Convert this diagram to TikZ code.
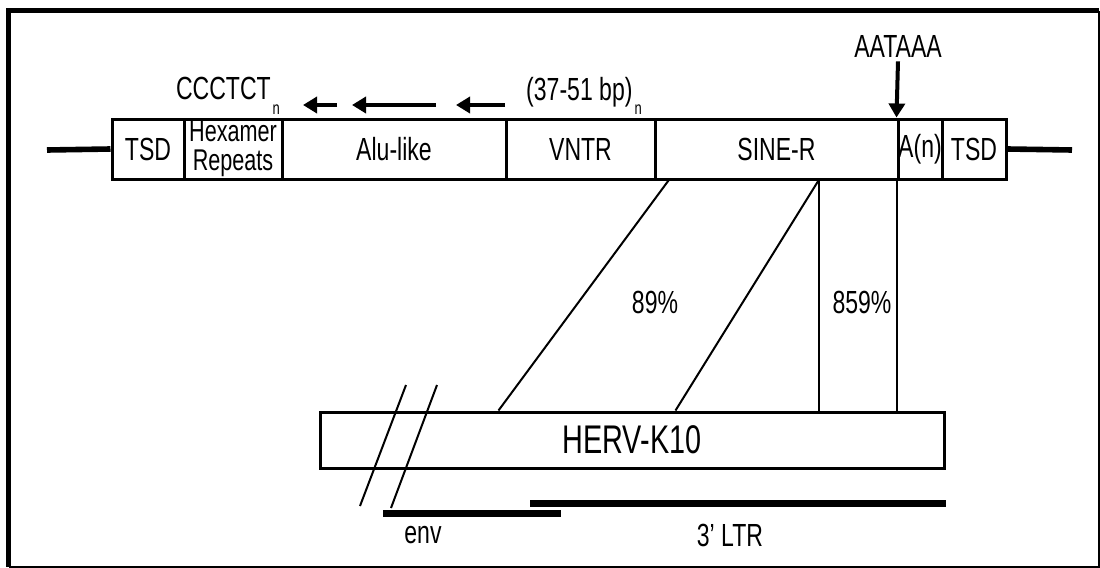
\documentclass[tikz,border=0pt]{standalone}
\usepackage{fontspec}
\setmainfont{Liberation Sans}[FakeStretch=0.72]
\usetikzlibrary{arrows.meta,positioning,calc}
\newcommand{\repsub}[1]{\kern1pt\raisebox{-0.45em}{\fontsize{9}{9}\selectfont #1}}

\begin{document}
\begin{tikzpicture}[x=0.5pt,y=-0.5pt,
    seg/.style={draw,line width=1.5pt,minimum height=30pt,inner sep=0pt,font=\fontsize{16}{16}\selectfont,align=center},
    lbl/.style={font=\fontsize{16}{16}\selectfont,inner sep=2pt},
    link/.style={line width=1pt},
    chrom/.style={line width=2.8pt},
    gbar/.style={line width=3.5pt},
    rpt/.style={line width=2pt,-{Triangle[length=7pt,width=8pt]}}]
  \useasboundingbox (0,0) rectangle (1100,568);
  % frame
  \draw[line width=2.5pt] (8.5,567) -- (8.5,10.5) -- (1099,10.5);
  \draw[line width=0.6pt] (8.5,567) -- (1099,567) -- (1099,10.5);
  % element
  \node[seg,minimum width=36pt] (tsdA) at (148,149) {TSD};
  \node[seg,minimum width=49pt,font=\fontsize{15}{14.5}\selectfont] (hex) at (233,149) {Hexamer\\Repeats};
  \node[seg,minimum width=112pt] (alu) at (394,149) {Alu-like};
  \node[seg,minimum width=74.5pt] (vntr) at (580.5,149) {VNTR};
  \node[seg,minimum width=121.5pt] (sine) at (776.5,149) {SINE-R};
  \node[seg,minimum width=22pt] (an) at (920,149) {A(n)};
  \node[seg,minimum width=32pt] (tsdB) at (974,149) {TSD};
  \coordinate (flankL) at (47,150);
  \coordinate (flankR) at (1072,150);
  \draw[chrom] (flankL) -- (tsdA.west);
  \draw[chrom] (tsdB.east) -- (flankR);
  % repeats
  \node[lbl] (ccc) at (228,96) {CCCTCT\repsub{n}};
  \node[lbl] (vnum) at (584,96) {(37-51 bp)\repsub{n}};
  \coordinate (r1a) at (337,105); \coordinate (r1b) at (303,105);
  \coordinate (r2a) at (436,105); \coordinate (r2b) at (352,105);
  \coordinate (r3a) at (505,105); \coordinate (r3b) at (456,105);
  \draw[rpt] (r1a) -- (r1b);
  \draw[rpt] (r2a) -- (r2b);
  \draw[rpt] (r3a) -- (r3b);
  \node[lbl] (polya) at (898,46) {AATAAA};
  \draw[rpt] (polya.south) -- (an.north west);
  % HERV-K10
  \node[seg,minimum width=312pt,minimum height=28pt,font=\fontsize{20}{22}\selectfont] (herv) at (632,440) {HERV-K10};
  \draw[link] ([xshift=7.5pt]sine.south west) -- ([xshift=90pt]herv.north west);
  \draw[link] ([xshift=82.5pt]sine.south west) -- ([xshift=178.5pt]herv.north west);
  \draw[link] ([xshift=82.5pt]sine.south west) -- ([xshift=250pt]herv.north west);
  \draw[link] (an.south west) -- (an.south west |- herv.north);
  \node[lbl] (idA) at (655,302) {89\%};
  \node[lbl] (idB) at (862,302) {859\%};
  % break marks
  \coordinate (cutAt) at (406,385); \coordinate (cutAb) at (360,506);
  \coordinate (cutBt) at (437,385); \coordinate (cutBb) at (391,508);
  \draw[link] (cutAt) -- (cutAb);
  \draw[link] (cutBt) -- (cutBb);
  % env and LTR
  \coordinate (envL) at (383,513); \coordinate (envR) at (561,513);
  \coordinate (ltrL) at (530,503);
  \draw[gbar] (envL) -- (envR);
  \draw[gbar] (ltrL) -- (ltrL -| herv.east);
  \node[lbl] (env) at (423,535) {env};
  \node[lbl] (ltr) at (730,535) {3' LTR};
\end{tikzpicture}
\end{document}
